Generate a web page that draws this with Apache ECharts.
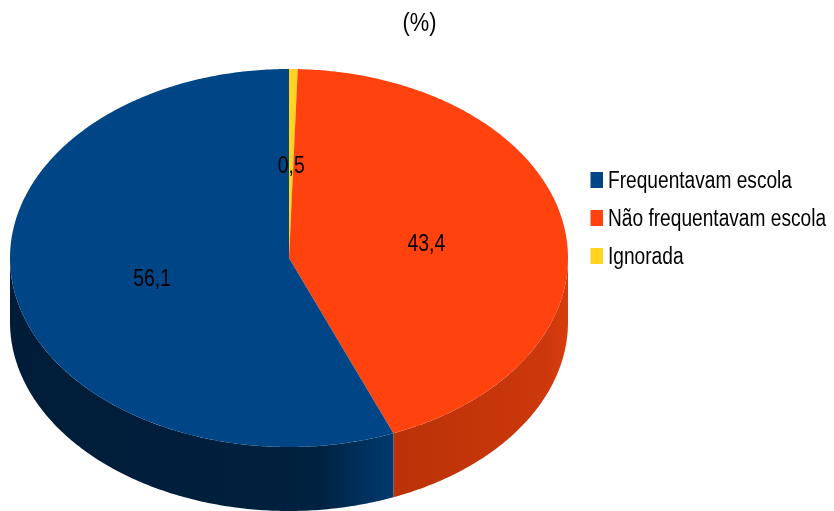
<!DOCTYPE html>
<html><head><meta charset="utf-8">
<style>html,body{margin:0;padding:0;background:#fff}#c{width:834px;height:511px}</style>
<script src="https://cdn.jsdelivr.net/npm/echarts@6/dist/echarts.min.js"></script>
</head><body><div id="c"></div>
<script>
const titleText = '(%)';
const drawOrder = ['Ignorada', 'Não frequentavam escola', 'Frequentavam escola'];
const drawValues = [0.5, 43.4, 56.1];
const legendOrder = ['Frequentavam escola', 'Não frequentavam escola', 'Ignorada'];
const colors = {'Frequentavam escola':'#004586','Não frequentavam escola':'#ff420e','Ignorada':'#ffd320'};
const sideStops = {
  'Frequentavam escola':[[0,'#001c38'],[0.8,'#00213f'],[1,'#003a70']],
  'Não frequentavam escola':[[0,'#bb3208'],[0.85,'#cb380b'],[1,'#d83c0d']],
  'Ignorada':[[0,'#997d10'],[1,'#997d10']]
};
const FONT = '"Liberation Sans"';
const cx = 289, cy = 258, rx = 279, ry = 189, depth = 64;
const total = drawValues.reduce((a,b)=>a+b,0);

function pt(a, r, dy){ return [cx + Math.sin(a)*rx*r, cy - Math.cos(a)*ry*r + (dy||0)]; }
function arc(a0, a1, dy){
  const n = Math.max(2, Math.ceil(Math.abs(a1-a0)*90)), p = [];
  for(let i=0;i<=n;i++) p.push(pt(a0+(a1-a0)*i/n, 1, dy));
  return p;
}
function makeRender(idx){
  return function(params, api){
    const v = api.value(0);
    let start = 0;
    for(let i=0;i<idx;i++) start += drawValues[i];
    const a0 = start/total*2*Math.PI, a1 = a0 + v/total*2*Math.PI;
    const name = drawOrder[idx];
    const children = [];
    const s0 = Math.max(a0, Math.PI/2), s1 = Math.min(a1, Math.PI*1.5);
    if (s1 > s0) {
      const top = arc(s0, s1, 0), bot = arc(s1, s0, depth);
      const xs = top.map(p=>p[0]);
      const xa = Math.min.apply(null,xs), xb = Math.max.apply(null,xs);
      children.push({type:'polygon', z2:1, shape:{points:top.concat(bot)},
        style:{fill:{type:'linear',global:true,x:xa,y:0,x2:xb,y2:0,
          colorStops:sideStops[name].map(s=>({offset:s[0],color:s[1]}))}}});
    }
    children.push({type:'polygon', z2:2, shape:{points:[[cx,cy]].concat(arc(a0,a1,0))},
      style:{fill:colors[name]}});
    const mid = pt((a0+a1)/2, 0.5);
    children.push({type:'text', z2:10, x:mid[0], y:mid[1]+3, scaleX:0.81,
      style:{text:String(v).replace('.',','), fill:'#000', font:'24px '+FONT, align:'center', verticalAlign:'middle'}});
    return {type:'group', children};
  };
}
const chart = echarts.init(document.getElementById('c'), null, {renderer:'canvas'});
chart.setOption({
  animation:false,
  backgroundColor:'#fff',
  legend:{data:legendOrder,left:590.5,top:172,orient:'vertical',padding:0,itemWidth:12.5,itemHeight:16,itemGap:22,icon:'rect',
    selectedMode:false,itemStyle:{borderWidth:0},formatter:()=>'',textStyle:{fontSize:1}},
  graphic:[
    {type:'text',x:419.5,y:24,scaleX:0.84,silent:true,
      style:{text:titleText,fill:'#000',font:'26px '+FONT,align:'center',verticalAlign:'middle'}}
  ].concat(legendOrder.map((t,i)=>({
    type:'text',x:608,y:182+38*i,scaleX:0.832,silent:true,
    style:{text:t,fill:'#000',font:'23px '+FONT,align:'left',verticalAlign:'middle'}
  }))),
  series:drawOrder.map((name,i)=>({
    type:'custom',name,coordinateSystem:'none',silent:true,
    itemStyle:{color:colors[name]},
    data:[[drawValues[i]]],
    renderItem:makeRender(i)
  }))
});
</script></body></html>
